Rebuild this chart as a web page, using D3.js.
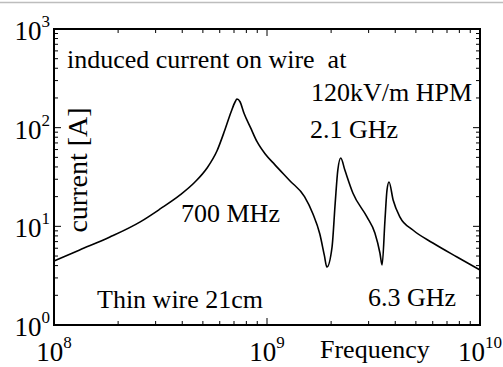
<!DOCTYPE html>
<html><head><meta charset="utf-8">
<script src="https://cdn.jsdelivr.net/npm/d3@7"></script>
<style>
body{margin:0;background:#fff}
svg{display:block}
text{font-family:"Liberation Serif","Times New Roman",serif;fill:#000}
</style>
</head><body>
<svg id="c" width="503" height="367"></svg>
<script>
// ---- data (frequency in Hz, induced current in A) ----
const freqHz = [1.00e8,1.32e8,1.83e8,2.54e8,3.15e8,3.91e8,4.59e8,5.23e8,5.82e8,6.34e8,6.78e8,7.08e8,7.23e8,7.47e8,7.80e8,8.37e8,8.98e8,9.81e8,1.09e9,1.28e9,1.50e9,1.64e9,1.77e9,1.86e9,1.91e9,2.02e9,2.09e9,2.15e9,2.22e9,2.32e9,2.53e9,2.95e9,3.21e9,3.39e9,3.47e9,3.58e9,3.66e9,3.74e9,3.91e9,4.21e9,4.84e9,6.01e9,7.80e9,1.00e10];
const currentA = [4.45,5.76,7.79,11.1,15.0,20.8,28.1,39.0,58.0,94.7,144,182,195,183,140,100,72,54,42,29,20,13.5,8.36,5.04,3.87,6.17,17.2,37.2,49.3,37.2,21.8,12.4,8.56,5.37,4.06,11.6,23.4,28.1,18.5,12.4,9.18,6.78,4.89,3.61];
const xTickExps = [8,9,10];
const yTickExps = [0,1,2,3];
const xLabel = "Frequency";
const yLabel = "current [A]";
const notes = ["induced current on wire  at","120kV/m HPM","2.1 GHz","700 MHz","Thin wire 21cm","6.3 GHz"];

// ---- layout ----
const L=54, R=480, T=29, B=325;
const svg = d3.select("#c");
const x = d3.scaleLog().domain([1e8,1e10]).range([L,R]);
const y = d3.scaleLog().domain([1,1e3]).range([B,T]);

// top grey rule
svg.append("line").attr("x1",0).attr("x2",503).attr("y1",2.5).attr("y2",2.5)
  .attr("stroke","#bdbdbd").attr("stroke-width",1.5);

// minor + major ticks on all four sides
function minorVals(scale){
  const [a,b]=scale.domain(); const out=[];
  for(let e=Math.log10(a); e<Math.log10(b); e++) for(let k=2;k<=9;k++) out.push(k*Math.pow(10,e));
  return out;
}
const g = svg.append("g").attr("stroke","#000").attr("stroke-width",1);
minorVals(x).forEach(v=>{
  g.append("line").attr("x1",x(v)).attr("x2",x(v)).attr("y1",B).attr("y2",B-4);
  g.append("line").attr("x1",x(v)).attr("x2",x(v)).attr("y1",T).attr("y2",T+4);
});
minorVals(y).forEach(v=>{
  g.append("line").attr("y1",y(v)).attr("y2",y(v)).attr("x1",L).attr("x2",L+4);
  g.append("line").attr("y1",y(v)).attr("y2",y(v)).attr("x1",R).attr("x2",R-4);
});
xTickExps.forEach(e=>{const v=Math.pow(10,e);
  g.append("line").attr("x1",x(v)).attr("x2",x(v)).attr("y1",B).attr("y2",B-7);
  g.append("line").attr("x1",x(v)).attr("x2",x(v)).attr("y1",T).attr("y2",T+7);
});
yTickExps.forEach(e=>{const v=Math.pow(10,e);
  g.append("line").attr("y1",y(v)).attr("y2",y(v)).attr("x1",L).attr("x2",L+7);
  g.append("line").attr("y1",y(v)).attr("y2",y(v)).attr("x1",R).attr("x2",R-7);
});

// curve
const line = d3.line().x((d,i)=>x(freqHz[i])).y((d,i)=>y(currentA[i])).curve(d3.curveMonotoneX);
svg.append("path").datum(currentA).attr("d",line)
  .attr("fill","none").attr("stroke","#000").attr("stroke-width",1.6).attr("stroke-linejoin","round");

// frame
svg.append("rect").attr("x",L).attr("y",T).attr("width",R-L).attr("height",B-T)
  .attr("fill","none").attr("stroke","#000").attr("stroke-width",2);

// tick labels
function powLabel(sel, e){
  sel.append("tspan").text("10");
  sel.append("tspan").attr("font-size",17).attr("dy",-13).text(e);
}
xTickExps.forEach(e=>{
  const t=svg.append("text").attr("x",x(Math.pow(10,e))).attr("y",361)
    .attr("text-anchor","middle").attr("font-size",27);
  powLabel(t,e);
});
yTickExps.forEach(e=>{
  const t=svg.append("text").attr("x",50).attr("y",y(Math.pow(10,e))+11)
    .attr("text-anchor","end").attr("font-size",27);
  powLabel(t,e);
});

// axis titles
svg.append("text").attr("x",320).attr("y",358).attr("font-size",26).text(xLabel);
svg.append("text").attr("transform","translate(87,170) rotate(-90)")
  .attr("text-anchor","middle").attr("font-size",28).text(yLabel);

// annotations
const notePos = [[67,68],[311,101],[310,138],[181,222],[97,308],[368,306]];
notes.forEach((s,i)=>{
  svg.append("text").attr("x",notePos[i][0]).attr("y",notePos[i][1])
    .attr("font-size",26).attr("xml:space","preserve").style("white-space","pre").text(s);
});
</script>
</body></html>
